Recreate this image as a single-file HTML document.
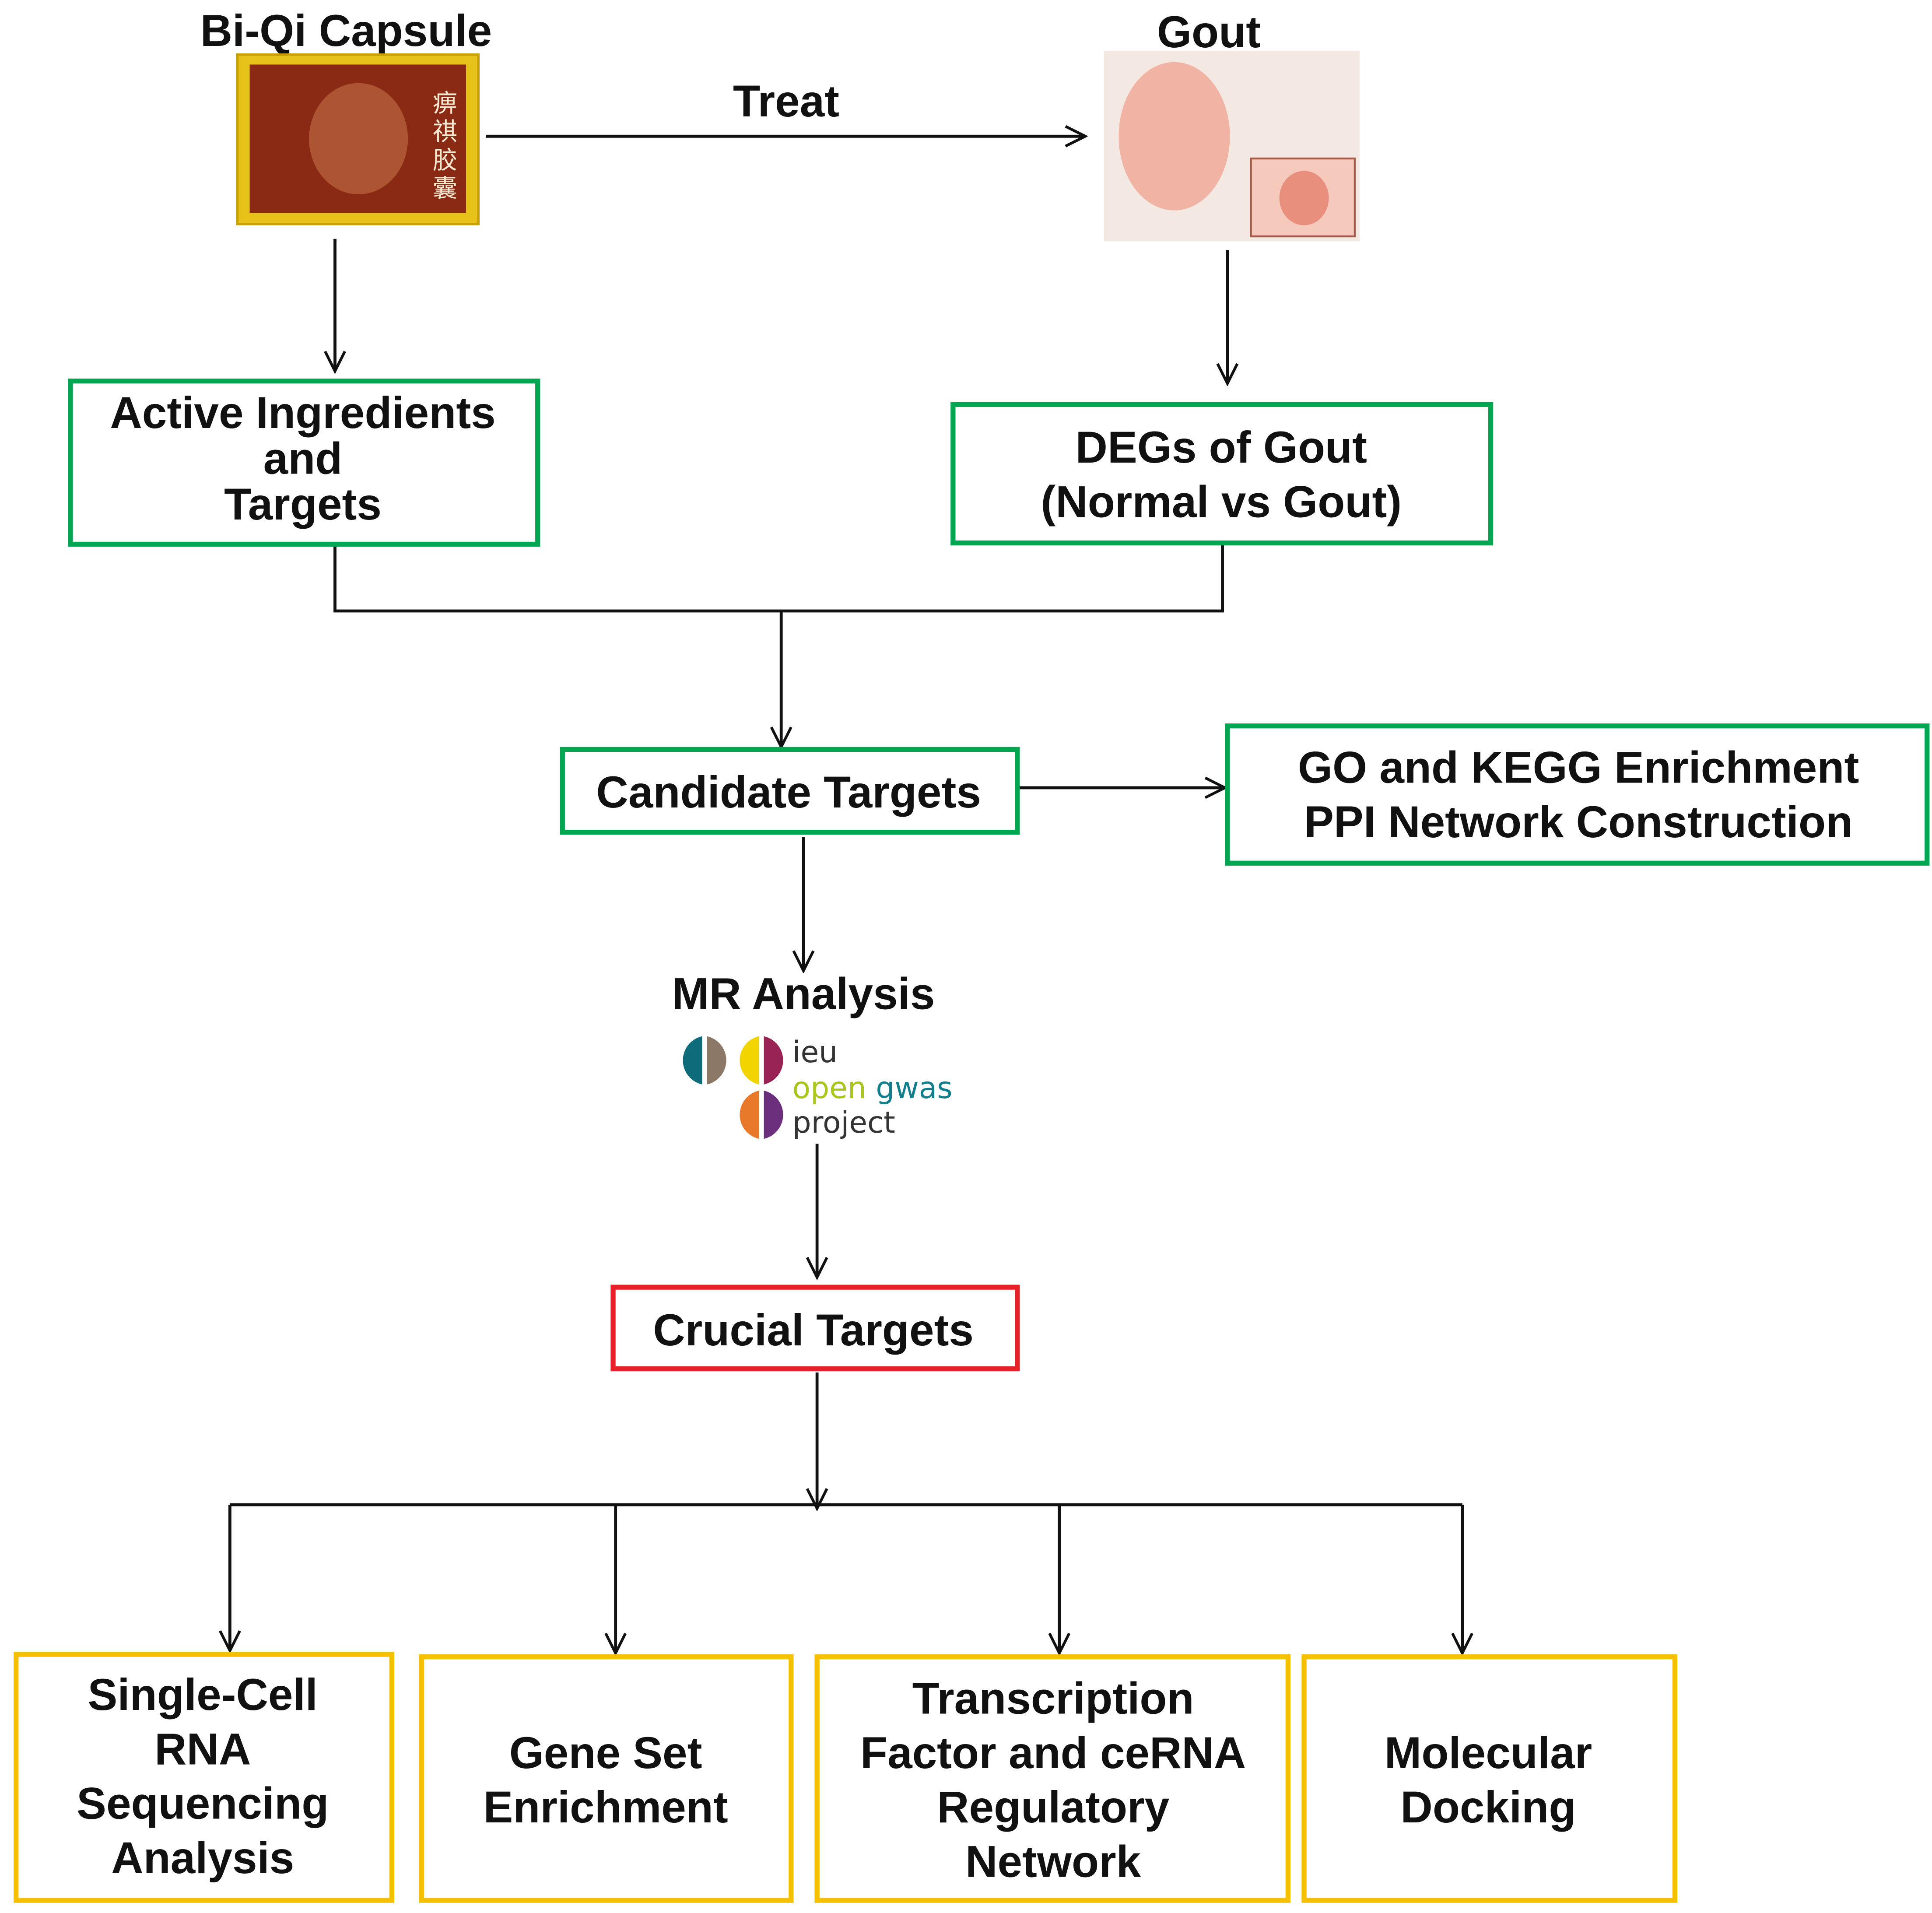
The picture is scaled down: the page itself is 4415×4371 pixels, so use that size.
<!DOCTYPE html>
<html><head><meta charset="utf-8"><style>html,body{margin:0;padding:0;background:#fff}svg{display:block}</style></head><body>
<svg width="4415" height="4371" viewBox="0 0 1563 1547" xmlns="http://www.w3.org/2000/svg" font-family="Liberation Sans, Arial, sans-serif">
<defs><marker id="a" markerWidth="20" markerHeight="20" refX="18" refY="10" orient="auto" markerUnits="userSpaceOnUse"><path d="M2,2 L18,10 L2,18" fill="none" stroke="#111" stroke-width="2.2"/></marker></defs>
<rect width="1563" height="1547" fill="#fff"/>
<g font-weight="bold" fill="#111" text-anchor="middle" font-size="36">
<text x="280" y="37">Bi-Qi  Capsule</text>
<text x="978" y="38">Gout</text>
<text x="636" y="94">Treat</text>
</g>
<rect x="192" y="44" width="195" height="137" fill="#e7c21a" stroke="#c9a000" stroke-width="2"/>
<rect x="202" y="52" width="175" height="120" fill="#8a2a14"/>
<ellipse cx="290" cy="112" rx="40" ry="45" fill="#b5603a" opacity="0.8"/>
<text x="360" y="90" font-family="Noto Sans CJK SC, sans-serif" font-size="20" fill="#f4e8d0" text-anchor="middle">痹</text>
<text x="360" y="113" font-family="Noto Sans CJK SC, sans-serif" font-size="20" fill="#f4e8d0" text-anchor="middle">祺</text>
<text x="360" y="136" font-family="Noto Sans CJK SC, sans-serif" font-size="20" fill="#f4e8d0" text-anchor="middle">胶</text>
<text x="360" y="159" font-family="Noto Sans CJK SC, sans-serif" font-size="20" fill="#f4e8d0" text-anchor="middle">囊</text>
<rect x="893" y="41" width="207" height="154" fill="#f3e9e2"/>
<ellipse cx="950" cy="110" rx="45" ry="60" fill="#f1b4a4"/>
<rect x="1012" y="128" width="84" height="63" fill="#f6c9bd" stroke="#a45a4a" stroke-width="1.5"/>
<ellipse cx="1055" cy="160" rx="20" ry="22" fill="#e88f7e"/>
<g stroke="#111" stroke-width="2.4" fill="none">
<line x1="393" y1="110" x2="878" y2="110" marker-end="url(#a)"/>
<line x1="271" y1="193" x2="271" y2="300" marker-end="url(#a)"/>
<line x1="993" y1="202" x2="993" y2="310" marker-end="url(#a)"/>
<polyline points="271,440 271,494 989,494 989,440"/>
<line x1="632" y1="494" x2="632" y2="604" marker-end="url(#a)"/>
<line x1="823" y1="637" x2="991" y2="637" marker-end="url(#a)"/>
<line x1="650" y1="677" x2="650" y2="785" marker-end="url(#a)"/>
<line x1="661" y1="925" x2="661" y2="1033" marker-end="url(#a)"/>
<line x1="661" y1="1110" x2="661" y2="1220" marker-end="url(#a)"/>
<line x1="186" y1="1217" x2="1183" y2="1217"/>
<line x1="186" y1="1217" x2="186" y2="1335" marker-end="url(#a)"/>
<line x1="498" y1="1217" x2="498" y2="1337" marker-end="url(#a)"/>
<line x1="857" y1="1217" x2="857" y2="1337" marker-end="url(#a)"/>
<line x1="1183" y1="1217" x2="1183" y2="1337" marker-end="url(#a)"/>
</g>
<g fill="none" stroke-width="4">
<rect x="57" y="308" width="378" height="132" stroke="#00a651"/>
<rect x="771" y="327" width="435" height="112" stroke="#00a651"/>
<rect x="455" y="606" width="368" height="67" stroke="#00a651"/>
<rect x="993" y="587" width="566" height="111" stroke="#00a651"/>
<rect x="496" y="1041" width="327" height="66" stroke="#e8202a"/>
<rect x="13" y="1338" width="304" height="199" stroke="#f5c000"/>
<rect x="341" y="1340" width="299" height="197" stroke="#f5c000"/>
<rect x="661" y="1340" width="381" height="197" stroke="#f5c000"/>
<rect x="1055" y="1340" width="300" height="197" stroke="#f5c000"/>
</g>
<g font-weight="bold" fill="#111" text-anchor="middle" font-size="36">
<text x="245" y="346">Active Ingredients</text>
<text x="245" y="383">and</text>
<text x="245" y="420">Targets</text>
<text x="988" y="374">DEGs of Gout</text>
<text x="988" y="418">(Normal vs Gout)</text>
<text x="638" y="653">Candidate  Targets</text>
<text x="1277" y="633">GO and KEGG Enrichment</text>
<text x="1277" y="677">PPI Network Construction</text>
<text x="650" y="816">MR Analysis</text>
<text x="658" y="1088">Crucial Targets</text>
<text x="164" y="1383">Single-Cell</text>
<text x="164" y="1427">RNA</text>
<text x="164" y="1471">Sequencing</text>
<text x="164" y="1515">Analysis</text>
<text x="490" y="1430">Gene Set</text>
<text x="490" y="1474">Enrichment</text>
<text x="852" y="1386">Transcription</text>
<text x="852" y="1430">Factor and ceRNA</text>
<text x="852" y="1474">Regulatory</text>
<text x="852" y="1518">Network</text>
<text x="1204" y="1430">Molecular</text>
<text x="1204" y="1474">Docking</text>
</g>
<path d="M568,838 A20,20 0 0 0 568,877 Z" fill="#0e6b7a"/>
<path d="M572,838 A20,20 0 0 1 572,877 Z" fill="#8c7866"/>
<path d="M614,838 A20,20 0 0 0 614,877 Z" fill="#f2d400"/>
<path d="M618,838 A20,20 0 0 1 618,877 Z" fill="#9a2356"/>
<path d="M614,882 A20,20 0 0 0 614,921 Z" fill="#e8782a"/>
<path d="M618,882 A20,20 0 0 1 618,921 Z" fill="#6b2f7e"/>
<g font-size="24" font-family="DejaVu Sans, sans-serif">
<text x="641" y="859" fill="#333">ieu</text>
<text x="641" y="888" fill="#a9c71a">open <tspan fill="#137f8c">gwas</tspan></text>
<text x="641" y="916" fill="#333">project</text>
</g>
</svg>
</body></html>
